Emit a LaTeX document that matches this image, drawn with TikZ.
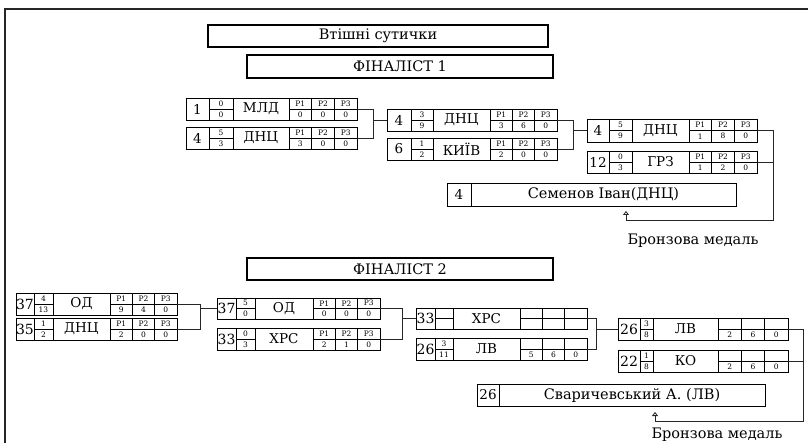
\documentclass[tikz,border=0pt]{standalone}
\usepackage{fontspec}
\setmainfont{DejaVu Serif}
\usetikzlibrary{arrows.meta,calc}

\newcommand\bigf{\fontsize{14.5}{15}\selectfont}
\newcommand\teamf{\fontsize{13.5}{14}\selectfont}
\newcommand\numf{\fontsize{13.5}{14}\selectfont}
\newcommand\numbf{\fontsize{14}{14}\selectfont}
\newcommand\tinyf{\fontsize{7.5}{8}\selectfont}

\tikzset{
  mbox/.style={draw, line width=0.8pt, rectangle, inner sep=0pt, outer sep=0pt},
  cell/.style={line width=0.7pt},
  titlebox/.style={draw, line width=1.8pt, rectangle, inner sep=0pt, font=\bigf},
  conn/.style={line width=0.8pt, black!85},
  frameline/.style={line width=1.2pt, black!85},
  txt/.style={inner sep=0pt},
  medal/.style={inner sep=0pt, font=\bigf},
  opentip/.style={-{Triangle[open,length=4pt,width=6pt]}}
}

\pgfkeys{/mb/.is family, /mb,
  l/.store in=\mbL, a/.store in=\mbA, b/.store in=\mbB, c/.store in=\mbC, r/.store in=\mbR,
  t/.store in=\mbT, d/.store in=\mbD,
  num/.store in=\mbNum, ft/.store in=\mbFt, fb/.store in=\mbFb, team/.store in=\mbTeam,
  pa/.store in=\mbPa, pb/.store in=\mbPb, pc/.store in=\mbPc,
  ha/.store in=\mbHa, hb/.store in=\mbHb, hc/.store in=\mbHc,
  nf/.store in=\mbNf,
  defaults/.style={ha=P1, hb=P2, hc=P3, pa={}, pb={}, pc={}, ft={}, fb={}, nf=\numf}
}

\newcommand\matchbox[2]{%
  \pgfkeys{/mb,defaults,#2}%
  \node[mbox, minimum width={(\mbR-\mbL)*1pt}, minimum height={(\mbD-\mbT)*1pt}]
     (#1) at ({(\mbL+\mbR)/2},{(\mbT+\mbD)/2}) {};
  \draw[cell] (\mbA,\mbT) -- (\mbA,\mbD) (\mbB,\mbT) -- (\mbB,\mbD) (\mbC,\mbT) -- (\mbC,\mbD)
     ({\mbC+(\mbR-\mbC)/3},\mbT) -- ({\mbC+(\mbR-\mbC)/3},\mbD)
     ({\mbC+2*(\mbR-\mbC)/3},\mbT) -- ({\mbC+2*(\mbR-\mbC)/3},\mbD)
     (\mbA,{(\mbT+\mbD)/2}) -- (\mbB,{(\mbT+\mbD)/2})
     (\mbC,{(\mbT+\mbD)/2}) -- (\mbR,{(\mbT+\mbD)/2});
  \node[txt, font=\mbNf] (#1-num) at ({(\mbL+\mbA)/2},{(\mbT+\mbD)/2}) {\mbNum};
  \node[txt, font=\tinyf] (#1-ft) at ({(\mbA+\mbB)/2},{\mbT+(\mbD-\mbT)/4}) {\mbFt};
  \node[txt, font=\tinyf] (#1-fb) at ({(\mbA+\mbB)/2},{\mbT+3*(\mbD-\mbT)/4}) {\mbFb};
  \node[txt, font=\teamf] (#1-team) at ({(\mbB+\mbC)/2},{(\mbT+\mbD)/2}) {\mbTeam};
  \node[txt, font=\tinyf] (#1-ha) at ({\mbC+(\mbR-\mbC)/6},{\mbT+(\mbD-\mbT)/4}) {\mbHa};
  \node[txt, font=\tinyf] (#1-hb) at ({\mbC+(\mbR-\mbC)/2},{\mbT+(\mbD-\mbT)/4}) {\mbHb};
  \node[txt, font=\tinyf] (#1-hc) at ({\mbC+5*(\mbR-\mbC)/6},{\mbT+(\mbD-\mbT)/4}) {\mbHc};
  \node[txt, font=\tinyf] (#1-pa) at ({\mbC+(\mbR-\mbC)/6},{\mbT+3*(\mbD-\mbT)/4}) {\mbPa};
  \node[txt, font=\tinyf] (#1-pb) at ({\mbC+(\mbR-\mbC)/2},{\mbT+3*(\mbD-\mbT)/4}) {\mbPb};
  \node[txt, font=\tinyf] (#1-pc) at ({\mbC+5*(\mbR-\mbC)/6},{\mbT+3*(\mbD-\mbT)/4}) {\mbPc};
}

% #1 name, #2 left, #3 divider, #4 right, #5 top, #6 bottom, #7 number, #8 text
\newcommand\winnerbox[8]{%
  \node[mbox, minimum width={(#4-#2)*1pt}, minimum height={(#6-#5)*1pt}]
     (#1) at ({(#2+#4)/2},{(#5+#6)/2}) {};
  \draw[cell] (#3,#5) -- (#3,#6);
  \node[txt, font=\numf] (#1-num) at ({(#2+#3)/2},{(#5+#6)/2}) {#7};
  \node[txt, font=\bigf] (#1-txt) at ({(#3+#4)/2},{(#5+#6)/2}) {#8};
}

\begin{document}
\begin{tikzpicture}[x=1pt, y=-1pt]
\useasboundingbox (0,0) rectangle (808,443);

% frame
\draw[frameline] (808,9) -- (5,9) -- (5,443);

% titles
\node[titlebox, minimum width=340pt, minimum height=22pt] (title) at (378,36) {Втішні сутички};
\node[titlebox, minimum width=306pt, minimum height=23pt] (fin1) at (400,66.5) {ФІНАЛІСТ 1};
\node[titlebox, minimum width=306pt, minimum height=22pt] (fin2) at (400,269) {ФІНАЛІСТ 2};

% ---------------- bracket 1
\matchbox{m1}{l=186,a=209,b=233,c=289,r=357,t=98,d=120,num=1,ft=0,fb=0,team=МЛД,pa=0,pb=0,pc=0}
\matchbox{m2}{l=186,a=209,b=233,c=289,r=357,t=127,d=149,num=4,ft=5,fb=3,team=ДНЦ,pa=3,pb=0,pc=0}
\matchbox{m3}{l=387,a=411,b=433,c=490,r=557,t=109,d=131,num=4,ft=3,fb=9,team=ДНЦ,pa=3,pb=6,pc=0}
\matchbox{m4}{l=387,a=411,b=433,c=490,r=557,t=138,d=160,num=6,ft=1,fb=2,team=КИЇВ,pa=2,pb=0,pc=0}
\matchbox{m5}{l=587,a=609,b=632,c=689,r=757,t=119,d=142,num=4,ft=5,fb=9,team=ДНЦ,pa=1,pb=8,pc=0}
\matchbox{m6}{l=587,a=609,b=632,c=689,r=757,t=151,d=173,num=12,ft=0,fb=3,team=ГРЗ,pa=1,pb=2,pc=0}
\winnerbox{w1}{447}{471}{736}{183}{206}{4}{Семенов Іван(ДНЦ)}

\coordinate (j1) at (373,0);
\coordinate (j2) at (573,0);
\coordinate (j3) at (773,220);
\coordinate (tip1) at (626,211);
\draw[conn] (m1.east) -| (j1 |- m2.east) -- (m2.east);
\draw[conn] (j1 |- m3.west) -- (m3.west);
\draw[conn] (m3.east) -| (j2 |- m4.east) -- (m4.east);
\draw[conn] (j2 |- m5.west) -- (m5.west);
\draw[conn, opentip] (m5.east) -| (j3) -| (tip1);
\draw[conn] (m6.east) -- (m6.east -| j3);
\node[medal] (bm1) at (693,241) {Бронзова медаль};

% ---------------- bracket 2
\matchbox{n1}{l=16,a=34,b=53,c=110,r=177,t=293,d=315,num=37,ft=4,fb=13,team=ОД,pa=9,pb=4,pc=0,nf=\numbf}
\matchbox{n2}{l=16,a=34,b=53,c=110,r=177,t=318,d=340,num=35,ft=1,fb=2,team=ДНЦ,pa=2,pb=0,pc=0,nf=\numbf}
\matchbox{n3}{l=217,a=236,b=255,c=313,r=380,t=298,d=319,num=37,ft=5,fb=0,team=ОД,pa=0,pb=0,pc=0,nf=\numbf}
\matchbox{n4}{l=217,a=236,b=255,c=313,r=380,t=328,d=350,num=33,ft=0,fb=3,team=ХРС,pa=2,pb=1,pc=0,nf=\numbf}
\matchbox{n5}{l=416,a=435,b=453,c=520,r=587,t=308,d=329,num=33,team=ХРС,ha={},hb={},hc={},nf=\numbf}
\matchbox{n6}{l=416,a=435,b=453,c=520,r=587,t=338,d=360,num=26,ft=3,fb=11,team=ЛВ,ha={},hb={},hc={},pa=5,pb=6,pc=0,nf=\numbf}
\matchbox{n7}{l=618,a=640,b=653,c=718,r=788,t=318,d=340,num=26,ft=3,fb=8,team=ЛВ,ha={},hb={},hc={},pa=2,pb=6,pc=0,nf=\numbf}
\matchbox{n8}{l=618,a=640,b=653,c=718,r=788,t=350,d=372,num=22,ft=1,fb=8,team=КО,ha={},hb={},hc={},pa=2,pb=6,pc=0,nf=\numbf}
\winnerbox{w2}{477}{499}{765}{384}{406}{26}{Сваричевський А. (ЛВ)}

\coordinate (k1) at (200,0);
\coordinate (k2) at (402,0);
\coordinate (k3) at (596,0);
\coordinate (k4) at (803,421);
\coordinate (tip2) at (655,412);
\draw[conn] (n1.east) -| (k1 |- n2.east) -- (n2.east);
\draw[conn] (k1 |- n3.west) -- (n3.west);
\draw[conn] (n3.east) -| (k2 |- n4.east) -- (n4.east);
\draw[conn] (k2 |- n5.west) -- (n5.west);
\draw[conn] (n5.east) -| (k3 |- n6.east) -- (n6.east);
\draw[conn] (k3 |- n7.west) -- (n7.west);
\draw[conn, opentip] (n7.east) -| (k4) -| (tip2);
\draw[conn] (n8.east) -- (n8.east -| k4);
\node[medal] (bm2) at (717,435) {Бронзова медаль};
\end{tikzpicture}
\end{document}
